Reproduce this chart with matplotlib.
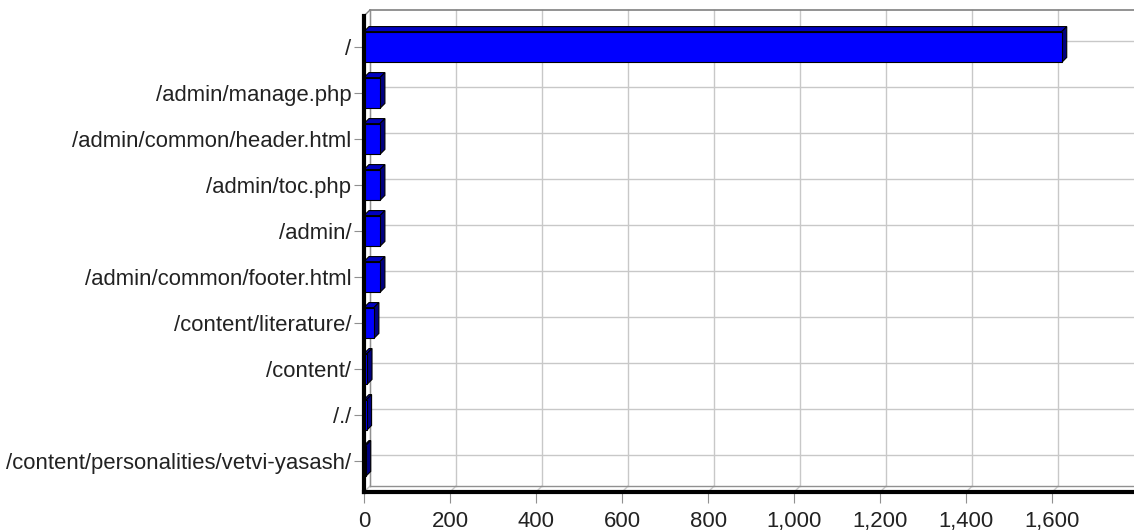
import matplotlib
matplotlib.use("Agg")
import matplotlib.pyplot as plt
from matplotlib.patches import Polygon
import numpy as np

pages = ["/", "/admin/manage.php", "/admin/common/header.html", "/admin/toc.php",
         "/admin/", "/admin/common/footer.html", "/content/literature/",
         "/content/", "/./", "/content/personalities/vetvi-yasash/"]
hits = [1622, 37, 37, 37, 37, 37, 23, 7, 6, 4]
xticks = [0, 200, 400, 600, 800, 1000, 1200, 1400, 1600]

plt.rcParams["font.family"] = ["Liberation Sans", "DejaVu Sans"]

W, H = 1134, 531
fig = plt.figure(figsize=(W / 100, H / 100), dpi=100)
left, bottom, top = 364, 492, 16
ax = fig.add_axes([left / W, (H - bottom) / H, (W - left) / W, (bottom - top) / H])

n = len(pages)
y = np.arange(n)
xmax = 1790
pad = 0.674
ax.set_xlim(0, xmax)
ax.set_ylim(n - 1 + pad, -pad)

# data units per pixel
ux = xmax / (W - left)
uy = (n - 1 + 2 * pad) / (bottom - top)
wall = 6   # depth of the back wall, px
depth = 5  # depth of the bars, px
wdx, wdy = wall * ux, wall * uy
bdx, bdy = depth * ux, depth * uy
ytop, ybot = -pad, n - 1 + pad

grid_c = "#c8c8c8"
# back wall grid
for t in xticks:
    ax.plot([t + wdx, t + wdx], [ytop - wdy, ybot - wdy], color=grid_c, lw=1, zorder=1, clip_on=False)
    ax.plot([t, t + wdx], [ybot, ybot - wdy], color=grid_c, lw=1, zorder=1, clip_on=False)
for yy in y:
    ax.plot([wdx, xmax], [yy - wdy, yy - wdy], color=grid_c, lw=1, zorder=1, clip_on=False)
    ax.plot([0, wdx], [yy, yy - wdy], color=grid_c, lw=1, zorder=1, clip_on=False)

# wall outline
ax.plot([wdx, xmax], [ytop - wdy, ytop - wdy], color="#808080", lw=1.2, zorder=1, clip_on=False)
ax.plot([wdx, wdx], [ytop - wdy, ybot - wdy], color="#909090", lw=1, zorder=1, clip_on=False)
ax.plot([wdx, xmax], [ybot - wdy, ybot - wdy], color="#909090", lw=1, zorder=1, clip_on=False)
ax.plot([0, wdx], [ytop, ytop - wdy], color="#808080", lw=1, zorder=1, clip_on=False)

# bars with a little depth
h = 0.67
for yy, v in zip(y, hits):
    y0, y1 = yy - h / 2, yy + h / 2
    topface = Polygon([(0, y0), (v, y0), (v + bdx, y0 - bdy), (bdx, y0 - bdy)], closed=True,
                      facecolor="#0000c0", edgecolor="black", lw=0.8, zorder=3)
    side = Polygon([(v, y0), (v + bdx, y0 - bdy), (v + bdx, y1 - bdy), (v, y1)], closed=True,
                   facecolor="#000080", edgecolor="black", lw=0.8, zorder=3)
    ax.add_patch(topface)
    ax.add_patch(side)
ax.barh(y, hits, height=h, color="#0000ff", edgecolor="black", linewidth=0.8, zorder=4)

ax.set_yticks(y)
ax.set_yticklabels(pages, fontsize=15.9, color="#222222")
ax.set_xticks(xticks)
ax.set_xticklabels([f"{t:,}" for t in xticks], fontsize=15.9, color="#222222")
ax.tick_params(axis="y", length=7, color="#909090", pad=2)
ax.tick_params(axis="x", length=8, color="#909090", pad=6)

for s in ["top", "right"]:
    ax.spines[s].set_visible(False)
for s in ["left", "bottom"]:
    ax.spines[s].set_linewidth(3)
    ax.spines[s].set_color("black")
    ax.spines[s].set_zorder(5)

fig.savefig("out.png", dpi=100)
